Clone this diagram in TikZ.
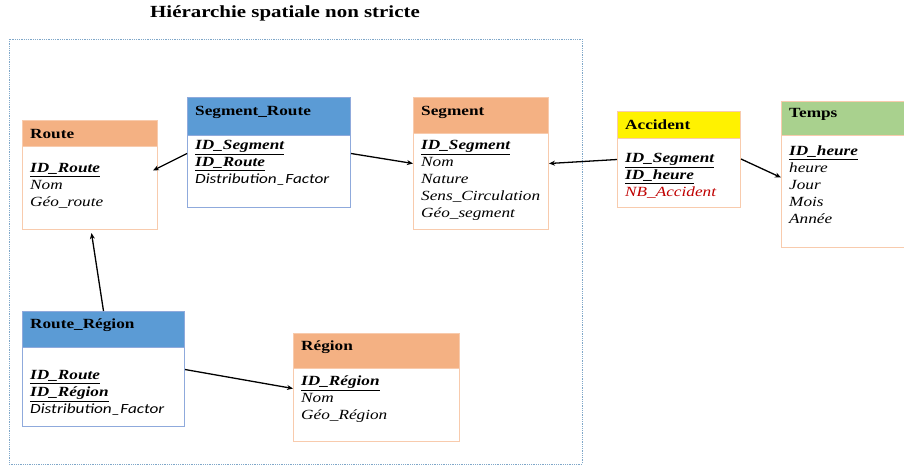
\documentclass[tikz,border=0pt]{standalone}
\usepackage{fontspec}
\setmainfont{Liberation Serif}[FakeStretch=1.23]
\newfontfamily\califont{Carlito}[FakeStretch=1.23]
\usetikzlibrary{arrows.meta}
\definecolor{peach}{HTML}{F4B183}
\definecolor{peachline}{HTML}{F8CBAD}
\definecolor{bluehead}{HTML}{5B9BD5}
\definecolor{blueline}{HTML}{8FAADC}
\definecolor{greenhead}{HTML}{A9D18E}
\definecolor{frameline}{HTML}{7FA7C9}
\definecolor{accred}{HTML}{C00000}
\tikzset{
  hdr/.style={draw=#1, line width=1pt, anchor=north west, inner sep=0pt,
    font=\fontsize{14}{17}\selectfont\bfseries},
  bdy/.style={draw=#1, line width=1pt, fill=white, anchor=north west, inner sep=0pt},
  attrs/.style={anchor=north west, inner sep=0pt, align=left,
    font=\fontsize{14}{17}\selectfont\itshape},
  ttl/.style={anchor=west, inner sep=0pt, font=\fontsize{14}{17}\selectfont\bfseries},
  rel/.style={line width=1.3pt, -{Stealth[length=6pt,width=5pt]}},
}
\newcommand{\pk}[1]{\textbf{\textit{\underline{#1}}}}
\begin{document}
\begin{tikzpicture}[x=1pt,y=-1pt]
\useasboundingbox (0,0) rectangle (904,466);
% title
\node[font=\fontsize{17}{20}\selectfont\bfseries, inner sep=0pt] (title) at (285,13) {Hiérarchie spatiale non stricte};
% frame
\draw[frameline, densely dotted, line width=0.8pt] (9,39) rectangle (582,464);

% Route
\node[hdr=peachline, fill=peach, minimum width=135pt, minimum height=26pt] (routeH) at (22,120) {};
\node[ttl] (routeT) at (30,134) {Route};
\node[bdy=peachline, minimum width=135pt, minimum height=83pt] (routeB) at (22,146) {};
\node[attrs] (routeA) at (30,163) {\pk{ID\_Route}\\Nom\\Géo\_route};

% Segment_Route
\node[hdr=blueline, fill=bluehead, minimum width=163pt, minimum height=38pt] (srH) at (187,97) {};
\node[ttl] (srT) at (195,112) {Segment\_Route};
\node[bdy=blueline, minimum width=163pt, minimum height=72pt] (srB) at (187,135) {};
\node[attrs] (srA) at (195,140) {\pk{ID\_Segment}\\\pk{ID\_Route}\\{\califont\itshape Distribution\_Factor}};

% Segment
\node[hdr=peachline, fill=peach, minimum width=135pt, minimum height=36pt] (segH) at (413,97) {};
\node[ttl] (segT) at (421,112) {Segment};
\node[bdy=peachline, minimum width=135pt, minimum height=96pt] (segB) at (413,133) {};
\node[attrs] (segA) at (421,140) {\pk{ID\_Segment}\\Nom\\Nature\\Sens\_Circulation\\Géo\_segment};

% Accident
\node[hdr=peachline, fill=yellow, minimum width=123pt, minimum height=27pt] (accH) at (617,111) {};
\node[ttl] (accT) at (625,125) {Accident};
\node[bdy=peachline, minimum width=123pt, minimum height=69pt] (accB) at (617,138) {};
\node[attrs] (accA) at (625,153) {\pk{ID\_Segment}\\\pk{ID\_heure}\\\textcolor{accred}{NB\_Accident}};

% Temps
\node[hdr=peachline, fill=greenhead, minimum width=126pt, minimum height=34pt] (tpsH) at (781,101) {};
\node[ttl] (tpsT) at (789,114) {Temps};
\node[bdy=peachline, minimum width=126pt, minimum height=112pt] (tpsB) at (781,135) {};
\node[attrs] (tpsA) at (789,146) {\pk{ID\_heure}\\heure\\Jour\\Mois\\Année};

% Route_Region
\node[hdr=blueline, fill=bluehead, minimum width=162pt, minimum height=36pt] (rrH) at (22,311) {};
\node[ttl] (rrT) at (30,325) {Route\_Région};
\node[bdy=blueline, minimum width=162pt, minimum height=79pt] (rrB) at (22,347) {};
\node[attrs] (rrA) at (30,370) {\pk{ID\_Route}\\\pk{ID\_Région}\\{\califont\itshape Distribution\_Factor}};

% Region
\node[hdr=peachline, fill=peach, minimum width=166pt, minimum height=35pt] (regH) at (293,333) {};
\node[ttl] (regT) at (301,347) {Région};
\node[bdy=peachline, minimum width=166pt, minimum height=73pt] (regB) at (293,368) {};
\node[attrs] (regA) at (301,376) {\pk{ID\_Région}\\Nom\\Géo\_Région};

% connectors
\draw[rel] ([yshift=18pt]srB.west) -- ([xshift=-5pt,yshift=17.5pt]routeB.east);
\draw[rel] ([yshift=18pt]srB.east) -- ([yshift=18pt]segB.west);
\draw[rel] ([yshift=13.5pt]accB.west) -- ([yshift=18pt]segB.east);
\draw[rel] ([yshift=14pt]accB.east) -- ([yshift=14pt]tpsB.west);
\draw[rel] ([xshift=0pt]rrH.north) -- ([xshift=1.5pt,yshift=-3pt]routeB.south);
\draw[rel] ([yshift=17.5pt]rrB.east) -- ([yshift=16.5pt]regB.west);
\end{tikzpicture}
\end{document}
